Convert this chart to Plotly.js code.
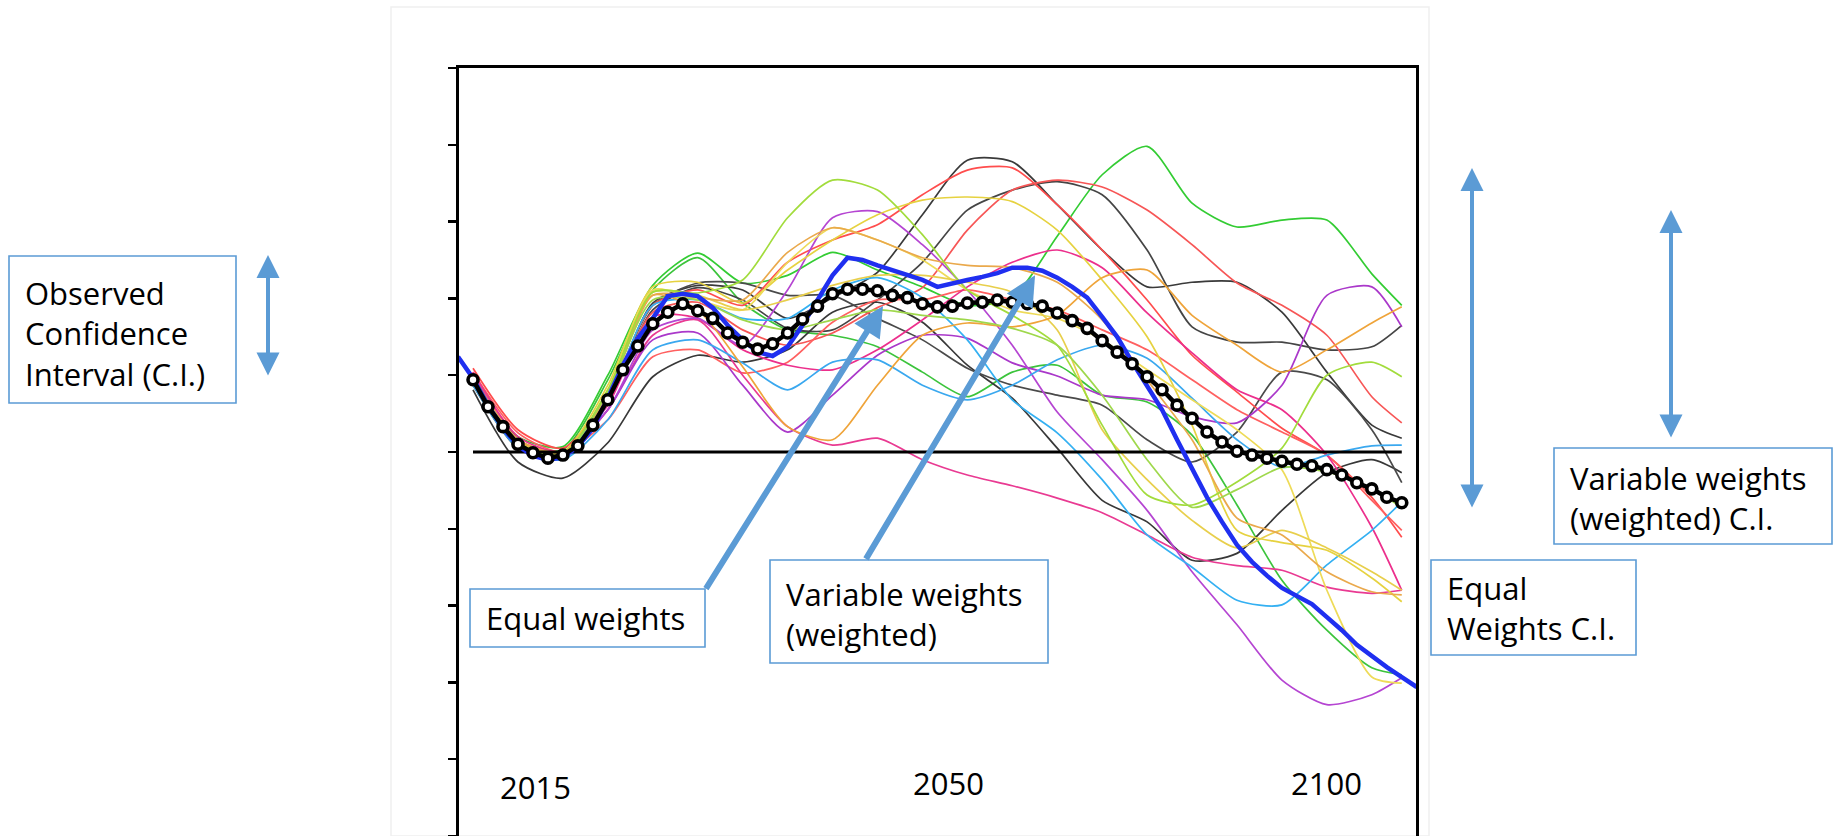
<!DOCTYPE html>
<html>
<head>
<meta charset="utf-8">
<script src="https://cdn.plot.ly/plotly-3.0.1.min.js"></script>
<style>
html,body{margin:0;padding:0;background:#fff;}
#chart{width:1847px;height:836px;}
</style>
</head>
<body>
<div id="chart"></div>
<script>
// ---------------- DATA ----------------
// x grid: model step index (markers of the weighted mean are one step apart)
const meanSteps = Array.from({length: 63}, (_, i) => i);          // 0..62
const equalSteps = Array.from({length: 65}, (_, i) => i - 1);     // -1..63
const sampleSteps = [0,3,6,9,12,15,18,21,24,27,30,33,36,39,42,45,48,51,54,57,60,62];

// Variable weights (weighted) mean - black line with open circles
const weightedMean = [0.94,0.59,0.33,0.10,-0.01,-0.08,-0.04,0.08,0.35,0.68,
  1.07,1.38,1.67,1.82,1.93,1.84,1.74,1.55,1.43,1.34,
  1.41,1.55,1.73,1.90,2.06,2.12,2.12,2.10,2.04,2.01,
  1.93,1.89,1.90,1.94,1.95,1.98,1.95,1.93,1.90,1.81,
  1.71,1.61,1.45,1.30,1.15,0.98,0.81,0.61,0.44,0.26,
  0.13,0.01,-0.04,-0.08,-0.12,-0.16,-0.18,-0.23,-0.30,-0.40,
  -0.48,-0.59,-0.66];

// Equal weights mean - thick blue line
const equalMean = [1.24,0.96,0.61,0.31,0.08,-0.05,-0.10,-0.07,0.07,0.31,
  0.70,1.13,1.48,1.74,2.03,2.06,2.03,1.88,1.65,1.46,
  1.30,1.25,1.37,1.65,1.98,2.30,2.53,2.50,2.43,2.37,
  2.30,2.24,2.15,2.20,2.24,2.28,2.33,2.40,2.40,2.36,
  2.27,2.15,2.01,1.76,1.50,1.17,0.87,0.55,0.16,-0.23,
  -0.59,-0.91,-1.21,-1.43,-1.61,-1.77,-1.88,-1.98,-2.15,-2.32,
  -2.51,-2.66,-2.80,-2.93,-3.06];

// Individual ensemble members (values at sampleSteps)
const greenA  = [0.96,0.20,0.07,1.00,2.17,2.59,2.20,2.30,2.60,2.37,2.15,1.91,2.01,2.81,3.61,3.98,3.24,2.93,3.02,3.02,2.32,1.91];
const greenB  = [0.91,0.14,0.03,0.94,2.11,2.53,1.94,1.59,1.52,1.37,1.04,0.72,1.04,1.13,0.74,0.65,0.22,-0.69,-1.67,-2.32,-2.81,-2.90];
const blackA  = [0.90,0.07,-0.05,0.68,1.94,2.17,2.11,1.74,2.01,2.34,3.09,3.80,3.78,3.22,2.63,2.15,2.21,2.21,1.82,1.04,0.35,0.18];
const blackB  = [0.87,0.05,-0.07,0.64,1.85,2.14,1.98,1.61,1.59,1.98,2.47,3.15,3.41,3.52,3.35,2.63,1.63,1.43,1.43,1.33,1.37,1.65];
const blackC  = [0.81,-0.13,-0.34,0.12,0.98,1.26,1.17,1.33,1.82,1.95,1.69,1.13,0.70,0.05,-0.63,-0.91,-1.41,-1.32,-0.76,-0.27,-0.10,-0.27];
const blackD  = [0.92,0.09,-0.04,0.70,1.91,2.20,2.20,2.04,2.04,1.74,1.46,1.09,0.87,0.74,0.61,0.16,-0.13,0.26,1.04,0.94,0.29,-0.40];
const redA    = [1.09,0.29,0.05,0.74,1.91,2.11,1.91,2.47,2.76,2.96,3.35,3.67,3.70,3.22,2.63,1.98,1.26,0.78,0.31,-0.04,-0.59,-1.11];
const redB    = [1.00,0.16,-0.04,0.64,1.82,1.95,1.59,1.39,1.55,1.88,2.14,2.89,3.41,3.54,3.45,3.15,2.70,2.20,1.91,1.52,0.72,0.38];
const redC    = [1.04,0.25,0.00,0.42,1.24,1.33,1.03,1.17,1.69,1.98,1.98,2.11,1.98,1.85,1.59,1.33,0.94,0.55,0.26,-0.04,-0.63,-1.02];
const pinkA   = [1.04,0.20,0.00,0.61,1.76,1.74,1.33,1.13,1.07,1.33,1.72,2.15,2.47,2.63,2.40,1.81,1.29,0.81,0.55,-0.04,-0.98,-1.80];
const pinkB   = [1.04,0.16,-0.04,0.55,1.52,1.72,1.00,0.33,0.09,0.18,-0.10,-0.30,-0.44,-0.60,-0.79,-1.08,-1.37,-1.48,-1.54,-1.76,-1.84,-1.80];
const purpleA = [0.96,0.13,-0.04,0.55,1.46,1.55,0.87,0.26,0.74,1.26,1.52,1.48,1.16,0.99,0.74,0.68,0.46,0.38,0.87,2.04,2.15,1.63];
const purpleB = [0.99,0.16,0.00,0.55,1.59,1.74,1.39,2.11,3.05,3.13,2.70,2.11,1.39,0.52,-0.10,-0.76,-1.56,-2.25,-2.97,-3.29,-3.16,-2.94];
const cyanA   = [0.87,0.05,-0.10,0.42,1.33,1.46,1.16,0.81,1.17,1.20,0.87,0.68,0.87,1.20,1.39,1.22,0.70,0.16,-0.20,-0.04,0.08,0.09];
const cyanB   = [0.91,0.09,-0.04,0.70,1.91,1.98,1.74,1.74,2.11,2.27,2.01,1.46,0.68,0.25,-0.36,-1.08,-1.50,-1.93,-1.99,-1.47,-1.02,-0.65];
const yellowA = [0.94,0.13,0.00,0.87,2.15,2.21,1.94,2.37,2.76,3.09,3.28,3.32,3.26,2.89,2.24,1.50,0.35,-1.02,-1.18,-1.28,-1.64,-1.95];
const yellowB = [0.91,0.10,-0.04,0.81,2.11,1.98,1.85,2.47,2.92,2.76,2.50,2.11,1.85,1.74,1.46,1.07,0.68,0.29,-0.23,-1.80,-2.93,-3.01];
const yellowC = [0.94,0.12,-0.03,0.78,2.08,2.04,1.85,1.98,2.17,2.30,2.30,2.21,2.08,1.59,0.29,-0.36,-0.89,-1.25,-1.02,-1.25,-1.56,-1.80];
const orangeA = [0.99,0.16,0.00,0.74,2.04,1.85,1.11,0.33,0.16,0.87,1.52,1.68,1.63,1.78,2.27,2.37,1.78,1.39,1.04,1.33,1.68,1.89];
const orangeB = [0.96,0.16,0.00,0.74,2.04,2.01,1.98,2.60,2.92,2.76,2.53,2.43,2.40,2.21,1.72,0.94,0.16,-0.86,-1.08,-1.56,-1.82,-1.86];
const limeA   = [0.94,0.12,-0.03,0.81,2.08,2.07,2.24,3.05,3.54,3.41,2.83,2.11,1.78,1.39,0.35,-0.56,-0.69,-0.39,0.05,1.00,1.17,0.98];
const limeB   = [0.91,0.09,-0.04,0.78,1.98,1.98,1.72,1.59,1.72,1.85,1.78,1.72,1.61,1.39,0.74,-0.10,-0.72,-0.49,-0.20,-0.26,-0.47,-0.73];

const yearLabels = ['2015', '2050', '2100'];

// ---------------- STYLE / LAYOUT ----------------
const members = [
  [greenA, '#33cc33'], [greenB, '#3cc43c'],
  [blackA, '#3a3a3a'], [blackB, '#454545'], [blackC, '#383838'], [blackD, '#4a4a4a'],
  [redA, '#ff4d4d'], [redB, '#f75656'], [redC, '#ff6060'],
  [pinkA, '#ec2f8c'], [pinkB, '#e93a92'],
  [purpleA, '#aa38ca'], [purpleB, '#b545d2'],
  [cyanA, '#3aa8ef'], [cyanB, '#34b0f2'],
  [yellowA, '#e6d240'], [yellowB, '#eedb58'], [yellowC, '#e8cf4c'],
  [orangeA, '#efa43a'], [orangeB, '#eaa94c'],
  [limeA, '#a2dc3c'], [limeB, '#9fd84c']
];

const traces = members.map(([vals, col]) => ({
  type: 'scatter', mode: 'lines', x: sampleSteps, y: vals,
  line: {color: col, width: 1.7, shape: 'spline', smoothing: 0.7}, hoverinfo: 'skip'
}));

// zero reference line spanning the mean's time range
traces.push({
  type: 'scatter', mode: 'lines',
  x: [meanSteps[0], meanSteps[meanSteps.length - 1]], y: [0, 0],
  line: {color: '#000', width: 3}, hoverinfo: 'skip'
});
traces.push({
  type: 'scatter', mode: 'lines', x: equalSteps, y: equalMean,
  line: {color: '#1f2ff0', width: 4.5}, hoverinfo: 'skip'
});
traces.push({
  type: 'scatter', mode: 'lines+markers', x: meanSteps, y: weightedMean,
  line: {color: '#000', width: 4.5},
  marker: {symbol: 'circle', size: 10, color: '#fff', line: {color: '#000', width: 3.6}},
  hoverinfo: 'skip'
});

// plot area geometry (pixels)
const W = 1847, H = 836, ML = 459, MR = 431, MT = 68, MB = 0;
const PW = W - ML - MR, PH = H - MT - MB;
const px = v => (v - ML) / PW;          // pixel x -> paper
const py = v => (H - MB - v) / PH;      // pixel y -> paper

const BLUE = '#5b9bd5';
const FONT = {family: 'Open Sans, sans-serif', size: 31, color: '#000'};

function box(x0, y0, x1, y1) {
  return {type: 'rect', xref: 'paper', yref: 'paper', x0: px(x0), x1: px(x1), y0: py(y1), y1: py(y0),
          line: {color: BLUE, width: 1.6}, fillcolor: 'rgba(255,255,255,0)', layer: 'above'};
}
function label(text, x, yc) {
  return {text: text, xref: 'paper', yref: 'paper', x: px(x), y: py(yc), xanchor: 'left', yanchor: 'middle',
          align: 'left', showarrow: false, font: FONT, borderpad: 0};
}
function dblArrow(x, yTop, yBot) {
  return {text: '', xref: 'paper', yref: 'paper', x: px(x), y: py(yTop), ax: 0, ay: yBot - yTop,
          showarrow: true, arrowside: 'end+start', arrowhead: 2, startarrowhead: 2,
          arrowsize: 1.15, startarrowsize: 1.15, arrowwidth: 4, arrowcolor: BLUE};
}

const yearPos = [[4.14, -4.36], [31.75, -4.31], [57.0, -4.31]];
const annotations = yearLabels.map((t, k) => ({
  text: t, x: yearPos[k][0], y: yearPos[k][1], xref: 'x', yref: 'y',
  showarrow: false, font: FONT, xanchor: 'center', yanchor: 'middle'
}));

annotations.push(
  label('Observed<br>Confidence<br>Interval (C.I.)', 24, 333),
  label('Equal weights', 485, 618),
  label('Variable weights<br>(weighted)', 785, 614),
  label('Variable weights<br>(weighted) C.I.', 1569, 498),
  label('Equal<br>Weights C.I.', 1446, 608),
  // callout arrows
  {text: '', x: 27.37, y: 1.90, xref: 'x', yref: 'y', ax: -178, ay: 284, showarrow: true,
   arrowhead: 2, arrowsize: 1, arrowwidth: 6, arrowcolor: BLUE},
  {text: '', x: 37.52, y: 2.30, xref: 'x', yref: 'y', ax: -170, ay: 285, showarrow: true,
   arrowhead: 2, arrowsize: 1, arrowwidth: 6, arrowcolor: BLUE},
  dblArrow(268, 255, 377),
  dblArrow(1472, 168, 509),
  dblArrow(1671, 210, 439)
);

const shapes = [
  {type: 'rect', xref: 'paper', yref: 'paper', x0: px(391), x1: px(1429), y0: py(836), y1: py(7),
   line: {color: '#f0f0f0', width: 1.5}, layer: 'below'},
  box(9, 256, 236, 403),
  box(470, 589, 705, 647),
  box(770, 560, 1048, 663),
  box(1554, 448, 1832, 544),
  box(1431, 560, 1636, 655)
];

const layout = {
  width: W, height: H,
  margin: {l: ML, r: MR, t: MT, b: MB, pad: 0},
  paper_bgcolor: '#fff', plot_bgcolor: '#fff',
  showlegend: false, hovermode: false,
  font: FONT,
  xaxis: {range: [-0.935, 62.95], showgrid: false, zeroline: false, showline: true, mirror: true,
          linecolor: '#000', linewidth: 3, ticks: '', showticklabels: false, fixedrange: true},
  yaxis: {range: [-5, 5], showgrid: false, zeroline: false, showline: true, mirror: true,
          linecolor: '#000', linewidth: 3, ticks: 'outside', ticklen: 8, tickwidth: 2.5, tickcolor: '#000',
          tick0: 0, dtick: 1, showticklabels: false, fixedrange: true},
  annotations: annotations,
  shapes: shapes
};

Plotly.newPlot('chart', traces, layout, {displayModeBar: false, staticPlot: true});
</script>
</body>
</html>
